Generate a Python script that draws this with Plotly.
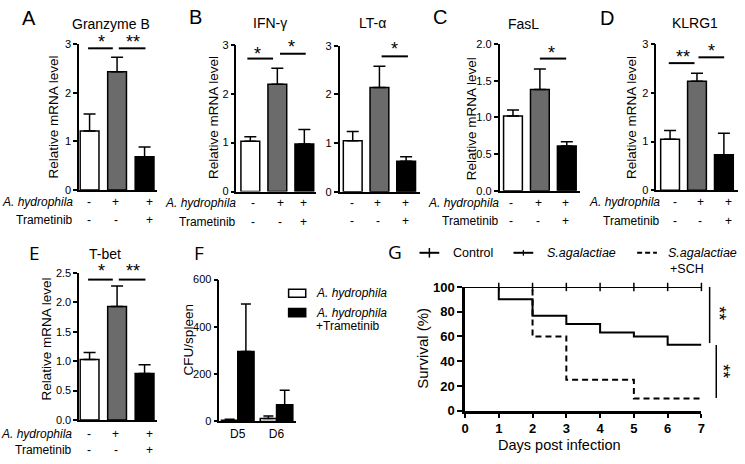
import plotly.graph_objects as go

# ------------------ data ------------------
groups = ["Control", "A. hydrophila", "A. hydrophila+Trametinib"]
bar_colors = ["#ffffff", "#6b6b6b", "#000000"]

gzmb_mean = [1.21, 2.43, 0.68]
gzmb_err = [0.35, 0.30, 0.20]
ifng_mean = [1.03, 2.19, 0.97]
ifng_err = [0.09, 0.33, 0.30]
lta_mean = [1.05, 2.14, 0.63]
lta_err = [0.19, 0.44, 0.09]
fasl_mean = [1.02, 1.38, 0.61]
fasl_err = [0.08, 0.28, 0.06]
klrg1_mean = [1.05, 2.24, 0.73]
klrg1_err = [0.18, 0.16, 0.44]
tbet_mean = [1.03, 1.93, 0.79]
tbet_err = [0.12, 0.35, 0.15]

hydro_signs = ["-", "+", "+"]
tram_signs = ["-", "-", "+"]

cfu_days = ["D5", "D6"]
cfu_hydro = [5, 13]
cfu_hydro_err = [4, 10]
cfu_tram = [296, 71]
cfu_tram_err = [201, 61]

surv_days = [0, 1, 2, 3, 4, 5, 6, 7]
surv_control = [100, 100, 100, 100, 100, 100, 100, 100]
surv_sag = [100, 90, 76.7, 70, 63.3, 60, 53.3, 53.3]
surv_sch = [100, 100, 60, 25, 25, 10, 10, 10]
censor_days = [1, 2, 3, 4, 5, 6, 7]
censor_control = [100, 100, 100, 100, 100, 100, 100]

# ------------------ helpers ------------------
W, H = 745, 464
FONT = "Liberation Sans"
fig = go.Figure()
axes = {}
shapes = []
annots = []


def px(x):
    return x / W


def py(y):
    return 1 - y / H


def text(x, y, s, size=12, xanchor="center", yanchor="middle", angle=0, family=FONT, weight="normal"):
    annots.append(dict(x=px(x), y=py(y), xref="paper", yref="paper", text=s, showarrow=False,
                       font=dict(size=size, family=family, color="black", weight=weight),
                       xanchor=xanchor, yanchor=yanchor, textangle=angle))


def seg(x0, y0, x1, y1, width=2, dash=None):
    shapes.append(dict(type="line", xref="paper", yref="paper", x0=px(x0), y0=py(y0),
                       x1=px(x1), y1=py(y1), line=dict(color="black", width=width, dash=dash)))


def names(i):
    if i == 1:
        return "x", "y", "xaxis", "yaxis"
    return f"x{i}", f"y{i}", f"xaxis{i}", f"yaxis{i}"


def bar_panel(i, means, errs, ax_x, c0, step, x_end, y_top, y_bot, ymax, dtick, fmt):
    xr, yr, xk, yk = names(i)
    fig.add_trace(go.Bar(
        x=groups, y=means, width=19 / step,
        marker=dict(color=bar_colors, line=dict(color="black", width=1.5)),
        error_y=dict(type="data", symmetric=False, array=errs, arrayminus=[0] * len(errs),
                     color="black", thickness=1.5, width=6),
        xaxis=xr, yaxis=yr, showlegend=False, hoverinfo="skip"))
    axes[xk] = dict(domain=[px(ax_x), px(x_end)], type="category",
                    range=[(ax_x - c0) / step, (x_end - c0) / step],
                    showline=True, linecolor="black", linewidth=1.5, showticklabels=False,
                    ticks="", showgrid=False, zeroline=False, anchor=yr)
    axes[yk] = dict(domain=[py(y_bot), py(y_top)], range=[0, ymax], showline=True,
                    linecolor="black", linewidth=1.5, ticks="outside", ticklen=4, tickwidth=1.5,
                    tickcolor="black", tick0=0, dtick=dtick, tickformat=fmt,
                    tickfont=dict(size=11, family=FONT, color="black"),
                    showgrid=False, zeroline=False, anchor=xr)


def sign_rows(xs, y1, y2, label_right=None):
    for x, s1, s2 in zip(xs, hydro_signs, tram_signs):
        text(x, y1, s1, 12)
        text(x, y2, s2, 12)
    if label_right is not None:
        text(label_right, y1, "<i>A. hydrophila</i>", 12, xanchor="right")
        text(label_right, y2, "Trametinib", 12, xanchor="right")


def star(x, y, s, angle=0):
    text(x, y + 5, s, 18, angle=angle)


# ------------------ bar panels ------------------
bar_panel(1, gzmb_mean, gzmb_err, 76, 86.5, 27.8, 155, 38.3, 189, 3, 1, "d")
bar_panel(2, ifng_mean, ifng_err, 235, 249, 27.3, 315, 39, 190.7, 3, 1, "d")
bar_panel(3, lta_mean, lta_err, 339.3, 352.5, 27, 421, 40, 191, 3, 1, "d")
bar_panel(4, fasl_mean, fasl_err, 501, 514.5, 27.2, 582, 38.3, 190, 2, 0.5, ".1f")
bar_panel(5, klrg1_mean, klrg1_err, 659.5, 673.3, 27.2, 742, 38.3, 189.5, 3, 1, "d")
bar_panel(6, tbet_mean, tbet_err, 76, 86.5, 27.8, 155, 275, 426.7, 2.5, 0.5, ".1f")

sign_rows([86, 113, 147], 202, 220, 72)
sign_rows([252, 279, 303], 203, 222, 237)
sign_rows([352, 378, 406], 203, 221)
sign_rows([513, 540, 568], 203, 220.7, 502)
sign_rows([678, 704, 732], 202, 221, 665)
sign_rows([86, 113, 147], 441.7, 458, 71)

# titles
text(108.3, 17.5, "Granzyme B", 14)
text(269, 17, "IFN-γ", 14)
text(372, 17, "LT-α", 14)
text(525, 17.5, "FasL", 14)
text(699, 17, "KLRG1", 14)
text(101.7, 255, "T-bet", 14)

# y titles
for (x, y) in [(50.5, 113.3), (212, 114), (472, 115), (634.5, 114), (43, 343)]:
    text(x, y, "Relative mRNA level", 13.5, angle=-90)

# panel letters
for (x, y, s) in [(25.7, 11, "A"), (194, 10, "B"), (440.5, 10.7, "C"), (610, 11, "D")]:
    text(x, y, s, 20)
for (x, y, s) in [(31.3, 254.7, "E"), (197, 254, "F"), (395.5, 253, "G")]:
    text(x, y, s, 19, family="Open Sans")

# significance
seg(85, 42.7, 110, 42.7); seg(116, 42.7, 143, 42.7)
star(98.3, 30.7, "*"); star(130, 30.7, "**")
seg(246, 53.3, 272, 53.3); seg(279, 48.3, 305, 48.3)
star(256.7, 43.3, "*"); star(291, 36, "*")
seg(381.7, 51, 408.3, 51); star(394.3, 38.3, "*")
seg(541.7, 53.3, 568.3, 53.3); star(553.3, 42.7, "*")
seg(672, 58, 698, 58); seg(702, 52, 728, 52)
star(686, 47, "**"); star(715, 40, "*")
seg(85, 281.7, 110, 281.7); seg(116, 281.7, 143, 281.7)
star(98.3, 268.3, "*"); star(130, 268.3, "**")

# ------------------ panel F ------------------
xr, yr, xk, yk = names(7)
fig.add_trace(go.Bar(x=cfu_days, y=cfu_hydro, width=0.42, offset=-0.42,
                     marker=dict(color="white", line=dict(color="black", width=1.5)),
                     error_y=dict(type="data", symmetric=False, array=cfu_hydro_err, arrayminus=[0, 0],
                                  color="black", thickness=1.5, width=5),
                     xaxis=xr, yaxis=yr, showlegend=False, hoverinfo="skip"))
fig.add_trace(go.Bar(x=cfu_days, y=cfu_tram, width=0.42, offset=0,
                     marker=dict(color="black", line=dict(color="black", width=1.5)),
                     error_y=dict(type="data", symmetric=False, array=cfu_tram_err, arrayminus=[0, 0],
                                  color="black", thickness=1.5, width=5),
                     xaxis=xr, yaxis=yr, showlegend=False, hoverinfo="skip"))
c0, step = 236.3, 39.2
axes[xk] = dict(domain=[px(217.7), px(295)], type="category",
                range=[(217.7 - c0) / step, (295 - c0) / step], showline=True, linecolor="black",
                linewidth=1.5, ticks="", showgrid=False, zeroline=False, anchor=yr,
                tickfont=dict(size=12, family=FONT, color="black"))
axes[yk] = dict(domain=[py(428.3), py(281.7)], range=[0, 600], showline=True, linecolor="black",
                linewidth=1.5, ticks="outside", ticklen=4, tickwidth=1.5, tickcolor="black",
                dtick=200, tickfont=dict(size=11, family=FONT, color="black"),
                showgrid=False, zeroline=False, anchor=xr)
text(186.5, 344, "CFU/spleen", 13.5, angle=-90)
shapes.append(dict(type="rect", xref="paper", yref="paper", x0=px(287.7), x1=px(305), y0=py(300), y1=py(291.7),
                   fillcolor="white", line=dict(color="black", width=1.5)))
shapes.append(dict(type="rect", xref="paper", yref="paper", x0=px(287.7), x1=px(305), y0=py(320), y1=py(311.7),
                   fillcolor="black", line=dict(color="black", width=1.5)))
text(313, 296, "<i>A. hydrophila</i>", 12, xanchor="left")
text(313, 316, "<i>A. hydrophila</i>", 12, xanchor="left")
text(313, 330, "+Trametinib", 12, xanchor="left")

# ------------------ panel G ------------------
xr, yr, xk, yk = names(8)
fig.add_trace(go.Scatter(x=surv_days, y=surv_control, mode="lines", line=dict(color="black", width=2, shape="hv"),
                         xaxis=xr, yaxis=yr, showlegend=False, cliponaxis=False, hoverinfo="skip"))
fig.add_trace(go.Scatter(x=surv_days, y=surv_sch, mode="lines",
                         line=dict(color="black", width=2, shape="hv", dash="6px,4px"),
                         xaxis=xr, yaxis=yr, showlegend=False, cliponaxis=False, hoverinfo="skip"))
fig.add_trace(go.Scatter(x=surv_days, y=surv_sag, mode="lines", line=dict(color="black", width=2, shape="hv"),
                         xaxis=xr, yaxis=yr, showlegend=False, cliponaxis=False, hoverinfo="skip"))
fig.add_trace(go.Scatter(x=censor_days, y=censor_control, mode="markers",
                         marker=dict(symbol="line-ns", size=6, line=dict(color="black", width=1.5)),
                         xaxis=xr, yaxis=yr, showlegend=False, cliponaxis=False, hoverinfo="skip"))
axes[xk] = dict(domain=[px(466), px(705)], range=[0, 7], dtick=1, showline=True, linecolor="black",
                linewidth=2.5, ticks="outside", ticklen=4, tickwidth=2, tickcolor="black",
                tickfont=dict(size=13, family=FONT, color="black", weight="bold"),
                showgrid=False, zeroline=False, anchor=yr)
axes[yk] = dict(domain=[py(417.3), py(289.3)], range=[0, 100], dtick=20, showline=True, linecolor="black",
                linewidth=2.5, ticks="outside", ticklen=5, tickwidth=2, tickcolor="black",
                tickfont=dict(size=13, family=FONT, color="black", weight="bold"),
                showgrid=False, zeroline=False, anchor=xr)
text(561.7, 453, "Days post infection", 14.5)
text(422.7, 353, "Survival (%)", 15, angle=-90)

# legend G
seg(420, 254, 440, 254, 2); seg(430, 249, 430, 259, 1.5)
text(451.7, 254, "Control", 12.5, xanchor="left")
seg(515, 254, 535, 254, 2); seg(525, 251, 525, 257, 1.2)
text(546.7, 254, "<i>S.agalactiae</i>", 12.5, xanchor="left")
seg(640, 254, 660, 254, 2, dash="5px,3px")
text(669, 254, "<i>S.agalactiae</i>", 12.5, xanchor="left")
text(671, 270.7, "+SCH", 12.5, xanchor="left")

# significance G
seg(713.3, 289.3, 713.3, 347.3, 1.5)
seg(720, 349.3, 720, 404, 1.5)
text(722, 316.7, "**", 18, angle=90)
text(727, 376.7, "**", 18, angle=90)

fig.update_layout(width=W, height=H, margin=dict(l=0, r=0, t=0, b=0), paper_bgcolor="white",
                  plot_bgcolor="rgba(0,0,0,0)", showlegend=False, barmode="overlay",
                  shapes=shapes, annotations=annots, **axes)
fig.write_html("out.html", config={"displayModeBar": False},
               post_script="document.body.style.margin='0';")
